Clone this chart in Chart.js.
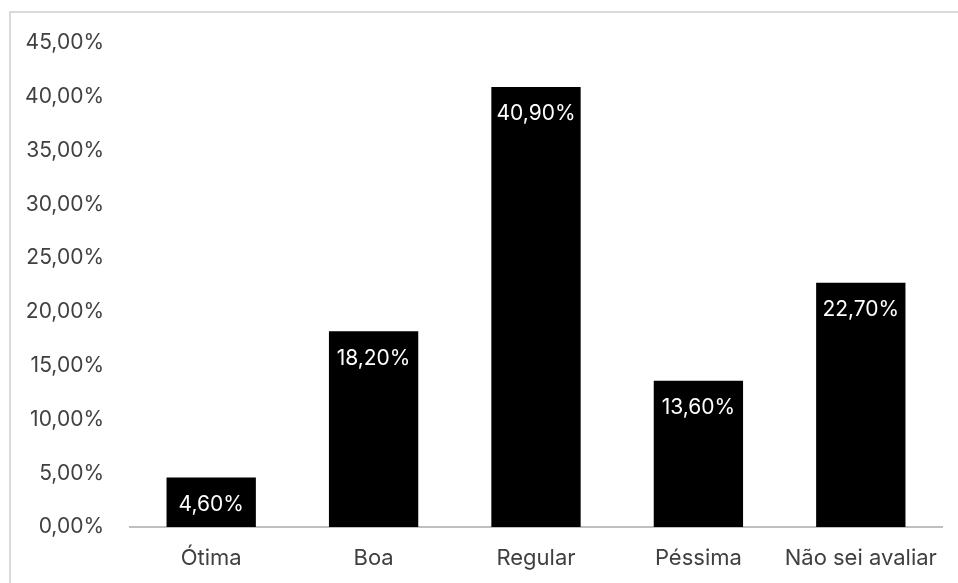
<!DOCTYPE html>
<html>
<head>
<meta charset="utf-8">
<script src="https://cdn.jsdelivr.net/npm/chart.js@4"></script>
<style>
  html, body { margin: 0; padding: 0; background: #fff; }
  #wrap { position: relative; width: 958px; height: 583px; overflow: hidden; }
  #frame { position: absolute; left: 9px; top: 11px; width: 960px; height: 600px;
           border-top: 2px solid #d9d9d9; border-left: 2px solid #d9d9d9; }
  canvas { position: absolute; left: 0; top: 0; }
</style>
</head>
<body>
<div id="wrap">
  <div id="frame"></div>
  <canvas id="chart" width="958" height="583"></canvas>
</div>
<script>
// Chart data
const categories = ['Ótima', 'Boa', 'Regular', 'Péssima', 'Não sei avaliar'];
const values = [4.6, 18.2, 40.9, 13.6, 22.7];

const fontFamily = 'Inter, "Noto Sans", sans-serif';

function formatPercent(v) {
    return v.toFixed(2).replace('.', ',') + '%';
}

// Draw value labels inside the top of each bar
const barLabels = {
    id: 'barLabels',
    afterDatasetsDraw(chart) {
        const ctx = chart.ctx;
        const meta = chart.getDatasetMeta(0);
        ctx.save();
        ctx.fillStyle = '#ffffff';
        ctx.font = '21px ' + fontFamily;
        ctx.textAlign = 'center';
        ctx.textBaseline = 'middle';
        meta.data.forEach((bar, i) => {
            ctx.fillText(formatPercent(values[i]), bar.x, bar.y + 27);
        });
        ctx.restore();
    }
};

const ctx = document.getElementById('chart').getContext('2d');
new Chart(ctx, {
    type: 'bar',
    data: {
        labels: categories,
        datasets: [{
            data: values,
            backgroundColor: '#000000',
            borderWidth: 0,
            categoryPercentage: 1,
            barPercentage: 0.55
        }]
    },
    options: {
        responsive: false,
        animation: false,
        layout: { padding: { top: 43, right: 16, left: 0, bottom: 0 } },
        plugins: {
            legend: { display: false },
            tooltip: { enabled: false }
        },
        scales: {
            x: {
                grid: { display: false, drawTicks: false },
                border: { display: true, color: '#bfbfbf', width: 2 },
                ticks: {
                    color: '#404040',
                    font: { family: fontFamily, size: 22 },
                    padding: 18,
                    maxRotation: 0,
                    autoSkip: false
                },
                afterFit(scale) { scale.height = 56; }
            },
            y: {
                min: 0,
                max: 45,
                grid: { display: false, drawTicks: false },
                border: { display: false },
                ticks: {
                    stepSize: 5,
                    color: '#404040',
                    font: { family: fontFamily, size: 21 },
                    padding: 26,
                    callback: v => formatPercent(v)
                },
                afterFit(scale) { scale.width = 130; }
            }
        }
    },
    plugins: [barLabels]
});
</script>
</body>
</html>
